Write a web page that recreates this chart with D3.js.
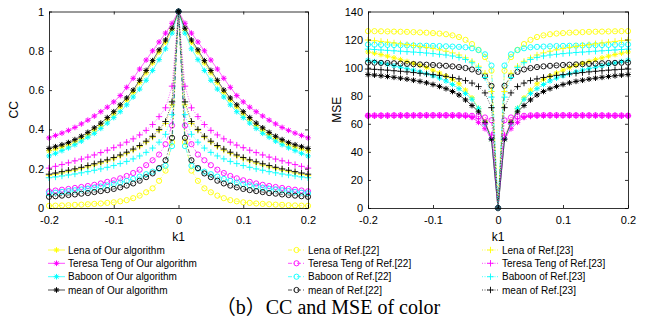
<!DOCTYPE html>
<html>
<head>
<meta charset="utf-8">
<script src="https://cdn.jsdelivr.net/npm/d3@7"></script>
<style>
body{margin:0;background:#fff;}
text{font-family:"Liberation Sans",Arial,sans-serif;}
</style>
</head>
<body>
<div id="fig"></div>
<script>
// k1 values (x axis)
const k1 = [-0.2,-0.19,-0.18,-0.17,-0.16,-0.15,-0.14,-0.13,-0.12,-0.11,-0.1,-0.09,-0.08,-0.07,-0.06,-0.05,-0.04,-0.03,-0.02,-0.01,0,
            0.01,0.02,0.03,0.04,0.05,0.06,0.07,0.08,0.09,0.1,0.11,0.12,0.13,0.14,0.15,0.16,0.17,0.18,0.19,0.2];

// CC
const ccLenaOur = [0.291,0.3,0.31,0.321,0.336,0.353,0.373,0.396,0.42,0.448,0.478,0.513,0.548,0.588,0.638,0.688,0.738,0.793,0.843,0.905,1,0.905,0.843,0.793,0.738,0.688,0.638,0.588,0.548,0.513,0.478,0.448,0.42,0.396,0.373,0.353,0.336,0.321,0.31,0.3,0.291];
const ccTeresaOur = [0.357,0.369,0.381,0.395,0.41,0.428,0.447,0.468,0.49,0.513,0.54,0.572,0.614,0.66,0.707,0.753,0.8,0.845,0.89,0.94,1,0.94,0.89,0.845,0.8,0.753,0.707,0.66,0.614,0.572,0.54,0.513,0.49,0.468,0.447,0.428,0.41,0.395,0.381,0.369,0.357];
const ccBaboonOur = [0.265,0.278,0.292,0.306,0.322,0.34,0.36,0.38,0.405,0.432,0.46,0.49,0.525,0.565,0.605,0.65,0.7,0.755,0.81,0.89,1,0.89,0.81,0.755,0.7,0.65,0.605,0.565,0.525,0.49,0.46,0.432,0.405,0.38,0.36,0.34,0.322,0.306,0.292,0.278,0.265];
const ccMeanOur = [0.303,0.312,0.322,0.333,0.348,0.365,0.385,0.408,0.432,0.46,0.49,0.525,0.56,0.6,0.65,0.7,0.75,0.805,0.855,0.915,1,0.915,0.855,0.805,0.75,0.7,0.65,0.6,0.56,0.525,0.49,0.46,0.432,0.408,0.385,0.365,0.348,0.333,0.322,0.312,0.303];
const ccLena22 = [0.011,0.012,0.013,0.014,0.016,0.017,0.019,0.021,0.023,0.026,0.029,0.034,0.04,0.05,0.063,0.08,0.1,0.138,0.19,0.335,1,0.335,0.19,0.138,0.1,0.08,0.063,0.05,0.04,0.034,0.029,0.026,0.023,0.021,0.019,0.017,0.016,0.014,0.013,0.012,0.011];
const ccTeresa22 = [0.085,0.089,0.093,0.097,0.102,0.107,0.112,0.118,0.125,0.133,0.141,0.151,0.163,0.178,0.195,0.218,0.243,0.272,0.325,0.42,1,0.42,0.325,0.272,0.243,0.218,0.195,0.178,0.163,0.151,0.141,0.133,0.125,0.118,0.112,0.107,0.102,0.097,0.093,0.089,0.085];
const ccBaboon22 = [0.075,0.078,0.082,0.086,0.09,0.094,0.098,0.103,0.109,0.115,0.122,0.13,0.138,0.148,0.16,0.172,0.185,0.2,0.215,0.315,1,0.315,0.215,0.2,0.185,0.172,0.16,0.148,0.138,0.13,0.122,0.115,0.109,0.103,0.098,0.094,0.09,0.086,0.082,0.078,0.075];
const ccMean22 = [0.057,0.06,0.063,0.066,0.069,0.073,0.076,0.081,0.086,0.091,0.097,0.105,0.114,0.125,0.139,0.157,0.176,0.203,0.243,0.357,1,0.357,0.243,0.203,0.176,0.157,0.139,0.125,0.114,0.105,0.097,0.091,0.086,0.081,0.076,0.073,0.069,0.066,0.063,0.06,0.057];
const ccLena23 = [0.165,0.171,0.178,0.185,0.192,0.2,0.209,0.218,0.228,0.239,0.25,0.264,0.278,0.294,0.312,0.335,0.36,0.395,0.43,0.525,1,0.525,0.43,0.395,0.36,0.335,0.312,0.294,0.278,0.264,0.25,0.239,0.228,0.218,0.209,0.2,0.192,0.185,0.178,0.171,0.165];
const ccTeresa23 = [0.203,0.212,0.221,0.23,0.24,0.249,0.259,0.27,0.282,0.294,0.307,0.32,0.335,0.352,0.372,0.395,0.425,0.465,0.51,0.62,1,0.62,0.51,0.465,0.425,0.395,0.372,0.352,0.335,0.32,0.307,0.294,0.282,0.27,0.259,0.249,0.24,0.23,0.221,0.212,0.203];
const ccBaboon23 = [0.154,0.158,0.163,0.168,0.173,0.179,0.185,0.192,0.199,0.207,0.216,0.226,0.237,0.25,0.265,0.283,0.305,0.335,0.375,0.475,1,0.475,0.375,0.335,0.305,0.283,0.265,0.25,0.237,0.226,0.216,0.207,0.199,0.192,0.185,0.179,0.173,0.168,0.163,0.158,0.154];
const ccMean23 = [0.172,0.178,0.185,0.192,0.199,0.207,0.216,0.225,0.235,0.245,0.257,0.27,0.284,0.3,0.318,0.34,0.365,0.4,0.44,0.54,1,0.54,0.44,0.4,0.365,0.34,0.318,0.3,0.284,0.27,0.257,0.245,0.235,0.225,0.216,0.207,0.199,0.192,0.185,0.178,0.172];

// MSE
const mseLenaOur = [111.2,110.3,109.3,108.2,107,105.7,104.4,103,101.6,100,98.2,96.2,94,91.5,88.5,84,78.5,71,61.5,49,0,49,61.5,71,78.5,84,88.5,91.5,94,96.2,98.2,100,101.6,103,104.4,105.7,107,108.2,109.3,110.3,111.2];
const mseTeresaOur = [65.7,65.7,65.8,65.8,65.9,65.9,66,66,66,66,66,66,66,65.9,65.8,65.5,64.5,61,56.5,49.5,0,49.5,56.5,61,64.5,65.5,65.8,65.9,66,66,66,66,66,66,66,65.9,65.9,65.8,65.8,65.7,65.7];
const mseBaboonOur = [105.3,104.3,103.3,102.3,101.3,100.3,99.3,98.2,97,95.7,94.2,92.5,90.5,88,85,81.5,77.5,71,60,49,0,49,60,71,77.5,81.5,85,88,90.5,92.5,94.2,95.7,97,98.2,99.3,100.3,101.3,102.3,103.3,104.3,105.3];
const mseMeanOur = [95.1,94.7,94.2,93.7,93.1,92.5,91.8,91,90.2,89.2,88,86.6,85,83,80.5,77,73,68.5,61,49,0,49,61,68.5,73,77,80.5,83,85,86.6,88,89.2,90.2,91,91.8,92.5,93.1,93.7,94.2,94.7,95.1];
const mseLena22 = [126,126,125.9,125.8,125.7,125.6,125.5,125.3,125.1,124.9,124.6,124.3,123.8,123,121.8,119.8,116.8,112.7,107.5,97.8,0,97.8,107.5,112.7,116.8,119.8,121.8,123,123.8,124.3,124.6,124.9,125.1,125.3,125.5,125.6,125.7,125.8,125.9,126,126];
const mseTeresa22 = [65.8,65.9,65.9,65.9,66,66,66,66,66,66.1,66.1,66.1,66.1,66.1,66.1,66,65.7,65.3,64.5,62.5,0,62.5,64.5,65.3,65.7,66,66.1,66.1,66.1,66.1,66.1,66.1,66,66,66,66,66,65.9,65.9,65.9,65.8];
const mseBaboon22 = [116.5,116.4,116.3,116.2,116.1,116,115.9,115.8,115.7,115.6,115.5,115.4,115.2,115,114.8,114.5,113.8,112.5,109.5,101.5,0,101.5,109.5,112.5,113.8,114.5,114.8,115,115.2,115.4,115.5,115.6,115.7,115.8,115.9,116,116.1,116.2,116.3,116.4,116.5];
const mseMean22 = [103.6,103.5,103.4,103.3,103.1,102.9,102.7,102.5,102.3,102.1,101.9,101.6,101.3,100.9,100.4,99.7,98.7,97,94,87,0,87,94,97,98.7,99.7,100.4,100.9,101.3,101.6,101.9,102.1,102.3,102.5,102.7,102.9,103.1,103.3,103.4,103.5,103.6];
const mseLena23 = [119.7,119.2,118.7,118.2,117.6,117,116.4,115.8,115.1,114.4,113.6,112.7,111.7,110.5,109,107,104.5,101,96,83,0,83,96,101,104.5,107,109,110.5,111.7,112.7,113.6,114.4,115.1,115.8,116.4,117,117.6,118.2,118.7,119.2,119.7];
const mseTeresa23 = [65.6,65.7,65.7,65.7,65.8,65.8,65.8,65.9,65.9,65.9,65.9,65.9,65.9,65.8,65.7,65.5,65,63.5,60,52,0,52,60,63.5,65,65.5,65.7,65.8,65.9,65.9,65.9,65.9,65.9,65.9,65.8,65.8,65.8,65.7,65.7,65.7,65.6];
const mseBaboon23 = [113.2,112.9,112.6,112.3,112,111.7,111.4,111.1,110.8,110.4,110,109.5,109,108.3,107.3,105.8,103.5,100,93,79,0,79,93,100,103.5,105.8,107.3,108.3,109,109.5,110,110.4,110.8,111.1,111.4,111.7,112,112.3,112.6,112.9,113.2];
const mseMean23 = [99,98.8,98.5,98.2,97.8,97.4,97,96.5,96,95.5,95,94.5,93.8,93,92,90.8,89,86.5,82,71.5,0,71.5,82,86.5,89,90.8,92,93,93.8,94.5,95,95.5,96,96.5,97,97.4,97.8,98.2,98.5,98.8,99];

const xTicks = [-0.2,-0.1,0,0.1,0.2];
const ccTicks = [0,0.2,0.4,0.6,0.8,1];
const mseTicks = [0,20,40,60,80,100,120,140];

const imgNames = ["Lena","Teresa Teng","Baboon","mean"];
const colors = ["#ffff00","#ff00ff","#00ffff","#000000"];
const groups = [
  {suffix:" of Our algorithm", marker:"star", dash:null},
  {suffix:" of Ref.[22]", marker:"circle", dash:"4,2,1,2"},
  {suffix:" of Ref.[23]", marker:"plus", dash:"1,1.5"}
];
const ccSeries = [[ccLenaOur,ccTeresaOur,ccBaboonOur,ccMeanOur],[ccLena22,ccTeresa22,ccBaboon22,ccMean22],[ccLena23,ccTeresa23,ccBaboon23,ccMean23]];
const mseSeries = [[mseLenaOur,mseTeresaOur,mseBaboonOur,mseMeanOur],[mseLena22,mseTeresa22,mseBaboon22,mseMean22],[mseLena23,mseTeresa23,mseBaboon23,mseMean23]];

const W = 654, H = 322;
const svg = d3.select("#fig").append("svg").attr("width",W).attr("height",H);

function drawMarker(g, type, color){
  if(type=="circle"){
    g.append("circle").attr("r",2.6).attr("fill","none").attr("stroke",color).attr("stroke-width",0.9);
  } else if(type=="star"){
    g.append("path").attr("d","M-2.8,0H2.8M0,-2.8V2.8M-2,-2L2,2M-2,2L2,-2").attr("stroke",color).attr("stroke-width",1);
  } else {
    g.append("path").attr("d","M-3.2,0H3.2M0,-3.2V3.2").attr("stroke",color).attr("stroke-width",0.9);
  }
}

function panel(x0,x1,domain,ticks,label,labelX,series){
  const top = 11.5, bottom = 208;
  const x = d3.scaleLinear().domain([-0.2,0.2]).range([x0,x1]);
  const y = d3.scaleLinear().domain(domain).range([bottom,top]);
  const g = svg.append("g");

  // series lines then markers
  series.forEach((grp,gi)=>{
    grp.forEach((vals,si)=>{
      const line = d3.line().x((d,i)=>x(k1[i])).y(d=>y(d));
      g.append("path").datum(vals).attr("d",line).attr("fill","none")
        .attr("stroke",colors[si]).attr("stroke-width",0.6)
        .attr("stroke-dasharray",groups[gi].dash);
      vals.forEach((v,i)=>{
        const m = g.append("g").attr("transform","translate("+x(k1[i])+","+y(v)+")");
        drawMarker(m,groups[gi].marker,colors[si]);
      });
    });
  });

  // axes with inward ticks, MATLAB style box
  const fmt = d=>String(d);
  g.append("g").attr("transform","translate(0,"+bottom+")")
    .call(d3.axisBottom(x).tickValues(xTicks).tickFormat(fmt).tickSizeInner(-3).tickSizeOuter(0).tickPadding(8));
  g.append("g").attr("transform","translate(0,"+top+")")
    .call(d3.axisTop(x).tickValues(xTicks).tickFormat("").tickSizeInner(-3).tickSizeOuter(0));
  g.append("g").attr("transform","translate("+x0+",0)")
    .call(d3.axisLeft(y).tickValues(ticks).tickFormat(fmt).tickSizeInner(-3).tickSizeOuter(0).tickPadding(5));
  g.append("g").attr("transform","translate("+x1+",0)")
    .call(d3.axisRight(y).tickValues(ticks).tickFormat("").tickSizeInner(-3).tickSizeOuter(0));
  g.selectAll(".domain").attr("stroke","#000").attr("stroke-width",0.8);
  g.selectAll(".tick line").attr("stroke","#000").attr("stroke-width",0.8);
  g.selectAll(".tick text").attr("font-size",11).attr("font-family","Liberation Sans, Arial, sans-serif").attr("fill","#000");

  g.append("text").attr("transform","translate("+labelX+","+((top+bottom)/2)+") rotate(-90)")
    .attr("text-anchor","middle").attr("font-size",12).text(label);
  g.append("text").attr("x",(x0+x1)/2).attr("y",241).attr("text-anchor","middle").attr("font-size",12).text("k1");
}

panel(49,308,[0,1],ccTicks,"CC",17.5,ccSeries);
panel(368,628,[0,140],mseTicks,"MSE",341,mseSeries);

// legends: three columns
const legX = [48,288,482];
const legRows = [250,263.3,276.7,290];
groups.forEach((grp,gi)=>{
  imgNames.forEach((nm,si)=>{
    const lg = svg.append("g").attr("transform","translate("+legX[gi]+","+legRows[si]+")");
    lg.append("line").attr("x1",0).attr("x2",17).attr("stroke",colors[si]).attr("stroke-width",0.7)
      .attr("stroke-dasharray",grp.dash);
    const m = lg.append("g").attr("transform","translate(8.5,0)");
    drawMarker(m,grp.marker,colors[si]);
    lg.append("text").attr("x",20).attr("y",3.5).attr("font-size",10).attr("fill","#000").text(nm+grp.suffix);
  });
});

// caption
svg.append("text").attr("x",328).attr("y",314).attr("text-anchor","middle")
  .attr("font-size",20).style("font-family","'Liberation Serif','Noto Sans CJK SC',serif")
  .text("（b）CC and MSE of color");
</script>
</body>
</html>
